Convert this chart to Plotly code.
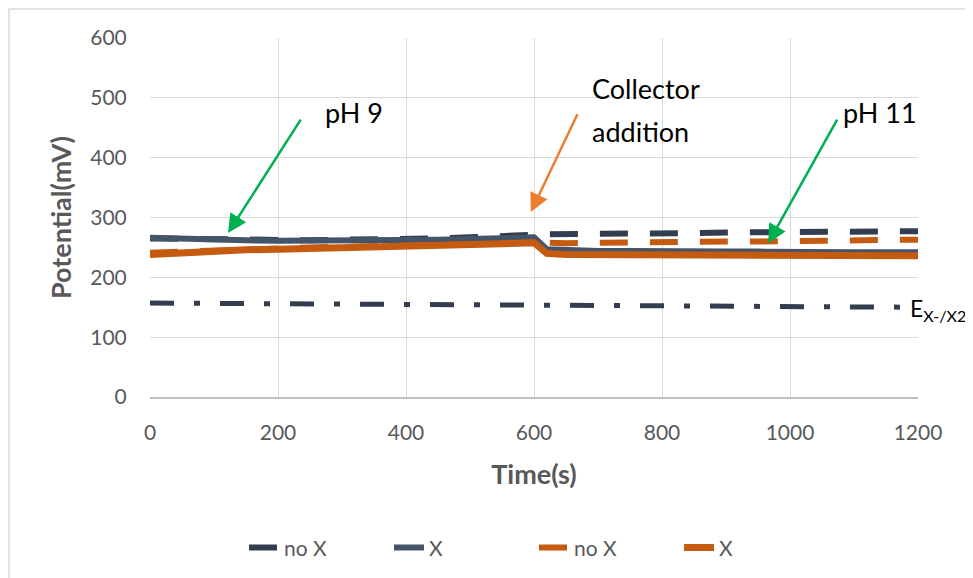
import plotly.graph_objects as go

time_s = [0, 50, 100, 150, 200, 250, 300, 350, 400, 450, 500, 550, 600, 620,
          650, 700, 750, 800, 850, 900, 950, 1000, 1050, 1100, 1150, 1200]
dark_no_x = [265, 264, 263, 262, 262, 262, 263, 263, 264, 265, 267, 268, 271, 272,
             272, 273, 273, 274, 274, 275, 275, 276, 276, 277, 277, 277]
dark_x = [266, 264, 263, 262, 261, 261, 261, 262, 262, 263, 264, 265, 267, 247,
          245, 244, 244, 243, 243, 243, 243, 242, 242, 242, 242, 242]
orange_no_x = [241, 243, 246, 248, 249, 250, 251, 252, 254, 255, 257, 258, 259, 258,
               257, 258, 258, 259, 259, 260, 260, 261, 261, 262, 262, 263]
orange_x = [238, 241, 244, 246, 247, 248, 250, 251, 252, 254, 255, 256, 258, 240,
            238, 238, 238, 237, 237, 237, 237, 237, 237, 237, 237, 236]
e_time = [0, 1200]
e_value = [157, 150]

FONT = "Lato, Calibri, sans-serif"
GRAY = "#595959"
DARK_D = "#323E4F"
DARK_S = "#44546A"
ORANGE = "#C55A11"

fig = go.Figure()
fig.add_trace(go.Scatter(x=time_s, y=dark_no_x, mode="lines", name="no X",
                         line=dict(color=DARK_D, width=6, dash="28px,22px")))
fig.add_trace(go.Scatter(x=time_s, y=dark_x, mode="lines", name="X",
                         line=dict(color=DARK_S, width=6)))
fig.add_trace(go.Scatter(x=time_s, y=orange_no_x, mode="lines", name="no X",
                         line=dict(color=ORANGE, width=6, dash="28px,22px")))
fig.add_trace(go.Scatter(x=time_s, y=orange_x, mode="lines", name="X",
                         line=dict(color=ORANGE, width=7)))
fig.add_trace(go.Scatter(x=e_time, y=e_value, mode="lines", showlegend=False,
                         line=dict(color=DARK_D, width=5, dash="24px,20px,6px,20px")))

ann_font = dict(family=FONT, size=27, color="black")
fig.add_annotation(x=122, y=274, ax=237, ay=466, axref="x", ayref="y", xref="x", yref="y",
                   text="", showarrow=True, arrowhead=2, arrowsize=1.5, arrowwidth=2.5,
                   arrowcolor="#00B050")
fig.add_annotation(x=595, y=309, ax=669, ay=475, axref="x", ayref="y", xref="x", yref="y",
                   text="", showarrow=True, arrowhead=2, arrowsize=1.5, arrowwidth=2.5,
                   arrowcolor="#ED7D31")
fig.add_annotation(x=966, y=257, ax=1075, ay=466, axref="x", ayref="y", xref="x", yref="y",
                   text="", showarrow=True, arrowhead=2, arrowsize=1.5, arrowwidth=2.5,
                   arrowcolor="#00B050")
fig.add_annotation(x=270, y=476, xref="x", yref="y", text="pH 9", showarrow=False,
                   xanchor="left", yanchor="middle", font=ann_font)
fig.add_annotation(x=688, y=516, xref="x", yref="y", text="Collector",
                   showarrow=False, xanchor="left", yanchor="middle", font=ann_font)
fig.add_annotation(x=688, y=444, xref="x", yref="y", text="addition",
                   showarrow=False, xanchor="left", yanchor="middle", font=ann_font)
fig.add_annotation(x=1080, y=476, xref="x", yref="y", text="pH 11", showarrow=False,
                   xanchor="left", yanchor="middle", font=ann_font)
fig.add_annotation(x=1184, y=146, xref="x", yref="y",
                   text="E<sub>X-/X2</sub>", showarrow=False,
                   xanchor="left", yanchor="middle", font=dict(family=FONT, size=23, color="black"))

fig.add_shape(type="rect", xref="paper", yref="paper", x0=-0.1836, x1=1.065, y0=-0.6, y1=1.0808,
              line=dict(color="#D9D9D9", width=1.5), fillcolor="rgba(0,0,0,0)", layer="below")

fig.update_layout(
    width=973, height=578, autosize=False,
    margin=dict(l=142, r=63, t=30, b=189),
    paper_bgcolor="white", plot_bgcolor="white",
    font=dict(family=FONT, color=GRAY),
    showlegend=True,
    legend=dict(orientation="h", x=0.5, xanchor="center", y=-0.42, yanchor="middle",
                font=dict(family=FONT, size=21, color=GRAY),
                entrywidth=100, entrywidthmode="pixels",
                bgcolor="rgba(0,0,0,0)"),
    xaxis=dict(range=[0, 1200], tickvals=[0, 200, 400, 600, 800, 1000, 1200],
               showgrid=True, gridcolor="#D9D9D9", gridwidth=1,
               showline=True, linecolor="#BFBFBF", linewidth=1.5,
               zeroline=False, ticks="outside", ticklen=16, tickcolor="rgba(0,0,0,0)",
               tickfont=dict(family=FONT, size=21, color=GRAY),
               title=dict(text="<b>Time(s)</b>", standoff=22,
                          font=dict(family=FONT, size=27, color=GRAY))),
    yaxis=dict(range=[0, 600], tickvals=[0, 100, 200, 300, 400, 500, 600],
               showgrid=True, gridcolor="#D9D9D9", gridwidth=1,
               showline=False, zeroline=False,
               ticks="outside", ticklen=18, tickcolor="rgba(0,0,0,0)",
               tickfont=dict(family=FONT, size=21, color=GRAY),
               title=dict(text="<b>Potential(mV)</b>", standoff=10,
                          font=dict(family=FONT, size=27, color=GRAY))),
)

fig.write_html("out.html")
